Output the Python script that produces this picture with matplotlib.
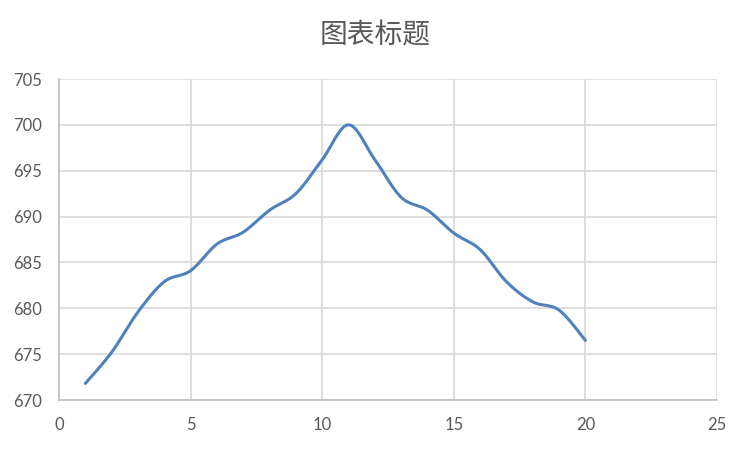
import numpy as np
import matplotlib
matplotlib.use("Agg")
import matplotlib.pyplot as plt

# data
x = [1, 2, 3, 4, 5, 6, 7, 8, 9, 10, 11, 12, 13, 14, 15, 16, 17, 18, 19, 20]
y = [671.8, 675.2, 679.6, 682.9, 684.1, 687.0, 688.3, 690.7, 692.5, 696.2,
     700.0, 696.2, 692.1, 690.7, 688.2, 686.4, 682.9, 680.7, 679.8, 676.5]
title = "图表标题"
xticks = [0, 5, 10, 15, 20, 25]
yticks = [670, 675, 680, 685, 690, 695, 700, 705]


def smooth(px, py, n=30):
    """Excel-style smoothed line: cubic Bezier with Catmull-Rom control points."""
    p = np.column_stack([px, py]).astype(float)
    p = np.vstack([p[0], p, p[-1]])
    out = []
    t = np.linspace(0, 1, n)[:, None]
    for i in range(1, len(p) - 2):
        p0, p1, p2, p3 = p[i - 1], p[i], p[i + 1], p[i + 2]
        c1 = p1 + (p2 - p0) / 6
        c2 = p2 - (p3 - p1) / 6
        seg = (1 - t) ** 3 * p1 + 3 * (1 - t) ** 2 * t * c1 + 3 * (1 - t) * t ** 2 * c2 + t ** 3 * p2
        out.append(seg if i == 1 else seg[1:])
    s = np.vstack(out)
    return s[:, 0], s[:, 1]


plt.rcParams["font.family"] = ["Lato", "Noto Sans CJK SC", "DejaVu Sans"]
fig = plt.figure(figsize=(7.5, 4.49), dpi=100)
ax = fig.add_axes([59 / 750, 49 / 449, 658 / 750, 321 / 449])

sx, sy = smooth(x, y)
ax.plot(sx, sy, color="#4F81BD", lw=2.2, solid_capstyle="round", zorder=3)

ax.set_xlim(0, 25)
ax.set_ylim(670, 705)
ax.set_xticks(xticks)
ax.set_yticks(yticks)
ax.grid(True, color="#D9D9D9", lw=1.2)
ax.set_axisbelow(True)
for side in ("top", "right"):
    ax.spines[side].set_visible(False)
for side in ("left", "bottom"):
    ax.spines[side].set_color("#BFBFBF")
    ax.spines[side].set_linewidth(1.2)
ax.tick_params(length=0, labelsize=12, labelcolor="#595959")
ax.tick_params(axis="y", pad=12)
ax.tick_params(axis="x", pad=12)

fig.suptitle(title, y=0.955, fontsize=20, color="#595959",
             family=["Noto Sans CJK SC", "DejaVu Sans"])

fig.savefig("out.png", dpi=100)
